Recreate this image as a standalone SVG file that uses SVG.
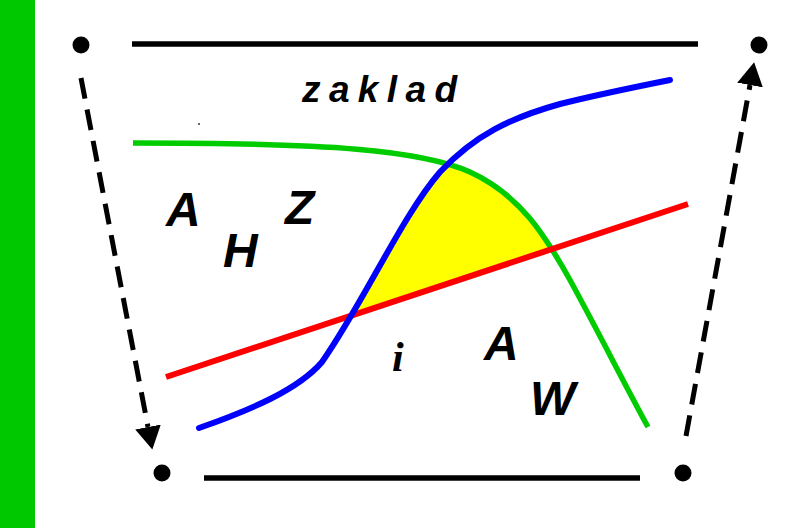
<svg xmlns="http://www.w3.org/2000/svg" width="793" height="528" viewBox="0 0 793 528">
<style>
.lbl{font-family:"Liberation Sans",Arial,sans-serif;font-weight:bold;font-style:italic;font-size:48px;fill:#000}
.dot{fill:#000}
.bar{stroke:#000;stroke-width:5.5;fill:none}
.dash{stroke:#000;stroke-width:5;fill:none;stroke-dasharray:21 11}
</style>
<defs>
<marker id="ah" markerUnits="userSpaceOnUse" markerWidth="24" markerHeight="26" refX="0" refY="13" orient="auto" viewBox="0 0 24 26">
<path d="M0,0 L23,13 L0,26 Z" fill="#000"/>
</marker>
<clipPath id="cRed"><polygon points="0,432 793,169 793,0 0,0"/></clipPath>
<clipPath id="cBlue"><path d="M199,428 C250,410 298,390 322,362 C364,302 402,216 440,172 C475,135 510,118 560,104 C600,94 630,88 670,80 L793,80 L793,528 L199,528 Z"/></clipPath>
</defs>
<rect width="793" height="528" fill="#fff"/>
<rect x="0" y="0" width="35" height="528" fill="#00C800"/>
<g id="yellow-area" clip-path="url(#cRed)">
<g clip-path="url(#cBlue)">
<path d="M133,143 C330,143 420,150 470,172 C520,195 545,235 570,280 C600,335 625,385 648,427 L648,528 L133,528 Z" fill="#FFFF00"/>
</g>
</g>
<g id="top-line"><line class="bar" x1="132" y1="44" x2="698" y2="44"/></g>
<g id="bottom-line"><line class="bar" x1="204" y1="478" x2="640" y2="478"/></g>
<g id="green-curve"><path d="M133,143 C330,143 420,150 470,172 C520,195 545,235 570,280 C600,335 625,385 648,427" fill="none" stroke="#00CC00" stroke-width="5.5"/></g>
<g id="red-line"><line x1="166" y1="377" x2="688" y2="204" stroke="#FF0000" stroke-width="6"/></g>
<g id="blue-curve"><path d="M199,428 C250,410 298,390 322,362 C364,302 402,216 440,172 C475,135 510,118 560,104 C600,94 630,88 670,80" fill="none" stroke="#0000FF" stroke-width="6" stroke-linecap="round"/></g>
<g id="node-tl"><circle class="dot" cx="81" cy="45" r="8.5"/></g>
<g id="node-tr"><circle class="dot" cx="759" cy="45" r="8.5"/></g>
<g id="node-bl"><circle class="dot" cx="162" cy="473" r="8.5"/></g>
<g id="node-br"><circle class="dot" cx="683" cy="473" r="8.5"/></g>
<circle cx="199" cy="124" r="1" fill="#333"/>
<g id="connectors">
<line class="dash" x1="81" y1="78" x2="148" y2="427" marker-end="url(#ah)"/>
<line class="dash" x1="686" y1="436" x2="750" y2="85" marker-end="url(#ah)"/>
</g>
<g id="labels">
<text x="302" y="102" font-family="Liberation Sans, Arial, sans-serif" font-weight="bold" font-style="italic" font-size="37" textLength="155" lengthAdjust="spacing">zaklad</text>
<text class="lbl" x="166" y="226">A</text>
<text class="lbl" x="223" y="267">H</text>
<text class="lbl" x="285" y="224">Z</text>
<text x="392" y="371" font-family="Liberation Serif, Times New Roman, serif" font-weight="bold" font-style="italic" font-size="42">i</text>
<text class="lbl" x="484" y="360">A</text>
<text class="lbl" x="530" y="415">W</text>
</g>
</svg>
